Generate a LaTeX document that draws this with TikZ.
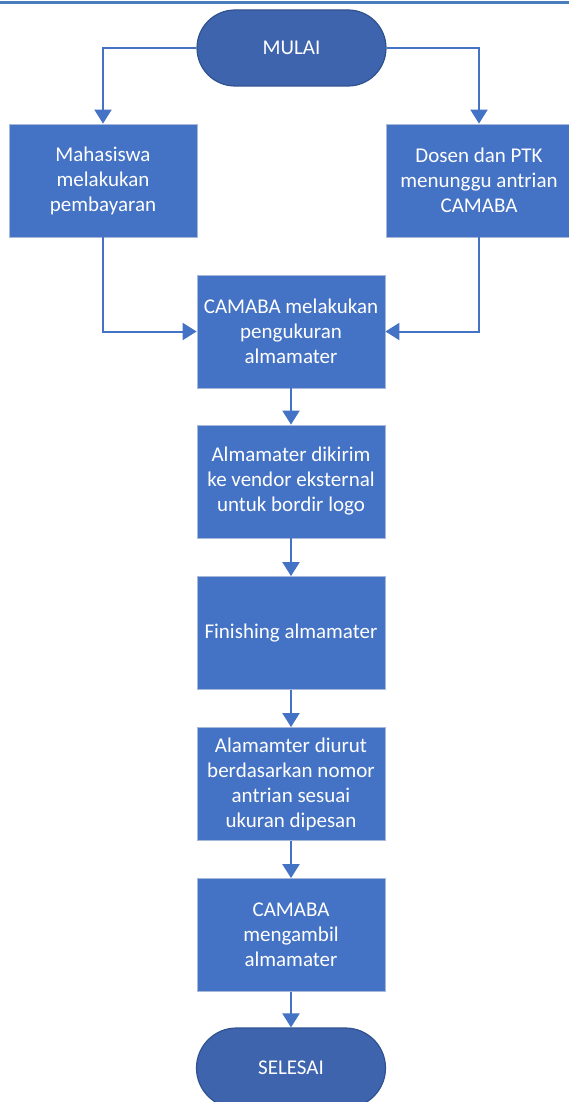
\documentclass[tikz,border=0pt]{standalone}
\usepackage{fontspec}
\setmainfont{Carlito}
\usetikzlibrary{arrows.meta}
\definecolor{boxblue}{HTML}{4472C4}
\definecolor{boxedge}{HTML}{A7B8DA}
\definecolor{pillblue}{HTML}{3E64AE}
\definecolor{pilledge}{HTML}{2F528F}
\definecolor{linecol}{HTML}{4472C4}
\definecolor{topline}{HTML}{4A7EBB}
\tikzset{
  stepbox/.style={draw=boxedge, line width=0.8pt, fill=boxblue, text=white,
    minimum width=188pt, minimum height=113pt, inner sep=0pt, align=center,
    font=\fontsize{21}{25}\selectfont},
  pill/.style={draw=pilledge, line width=1.2pt, fill=pillblue, text=white,
    minimum width=189pt, minimum height=76pt, rounded corners=38pt, inner sep=0pt,
    font=\fontsize{21}{25}\selectfont},
  conn/.style={draw=linecol, line width=2pt, -{Triangle[width=17pt,length=14pt]}}
}
\begin{document}
\begin{tikzpicture}[x=1pt,y=-1pt]
\useasboundingbox (0,0) rectangle (569,1102);
\clip (0,0) rectangle (569,1102);
\draw[topline, line width=3pt] (0,3) -- (569,3);
\node[pill] (start) at (291.5,48) {MULAI};
\node[stepbox] (b1) at (103,180.5) {Mahasiswa\\melakukan\\pembayaran};
\node[stepbox, minimum width=186pt] (b2) at (479,180.5) {Dosen dan PTK\\menunggu antrian\\CAMABA};
\node[stepbox] (b3) at (291,331.5) {CAMABA melakukan\\pengukuran\\almamater};
\node[stepbox] (b4) at (291,481.5) {Almamater dikirim\\ke vendor eksternal\\untuk bordir logo};
\node[stepbox] (b5) at (291,633) {Finishing almamater};
\node[stepbox] (b6) at (291,784) {Alamamter diurut\\berdasarkan nomor\\antrian sesuai\\ukuran dipesan};
\node[stepbox] (b7) at (291,935) {CAMABA\\mengambil\\almamater};
\node[pill, minimum height=80pt, rounded corners=40pt] (end) at (291,1068) {SELESAI};
\draw[conn] (start.west) -| (b1.north);
\draw[conn] (start.east) -| (b2.north);
\draw[conn] (b1.south) |- (b3.west);
\draw[conn] (b2.south) |- (b3.east);
\draw[conn] (b3) -- (b4);
\draw[conn] (b4) -- (b5);
\draw[conn] (b5) -- (b6);
\draw[conn] (b6) -- (b7);
\draw[conn] (b7) -- (end);
\end{tikzpicture}
\end{document}
